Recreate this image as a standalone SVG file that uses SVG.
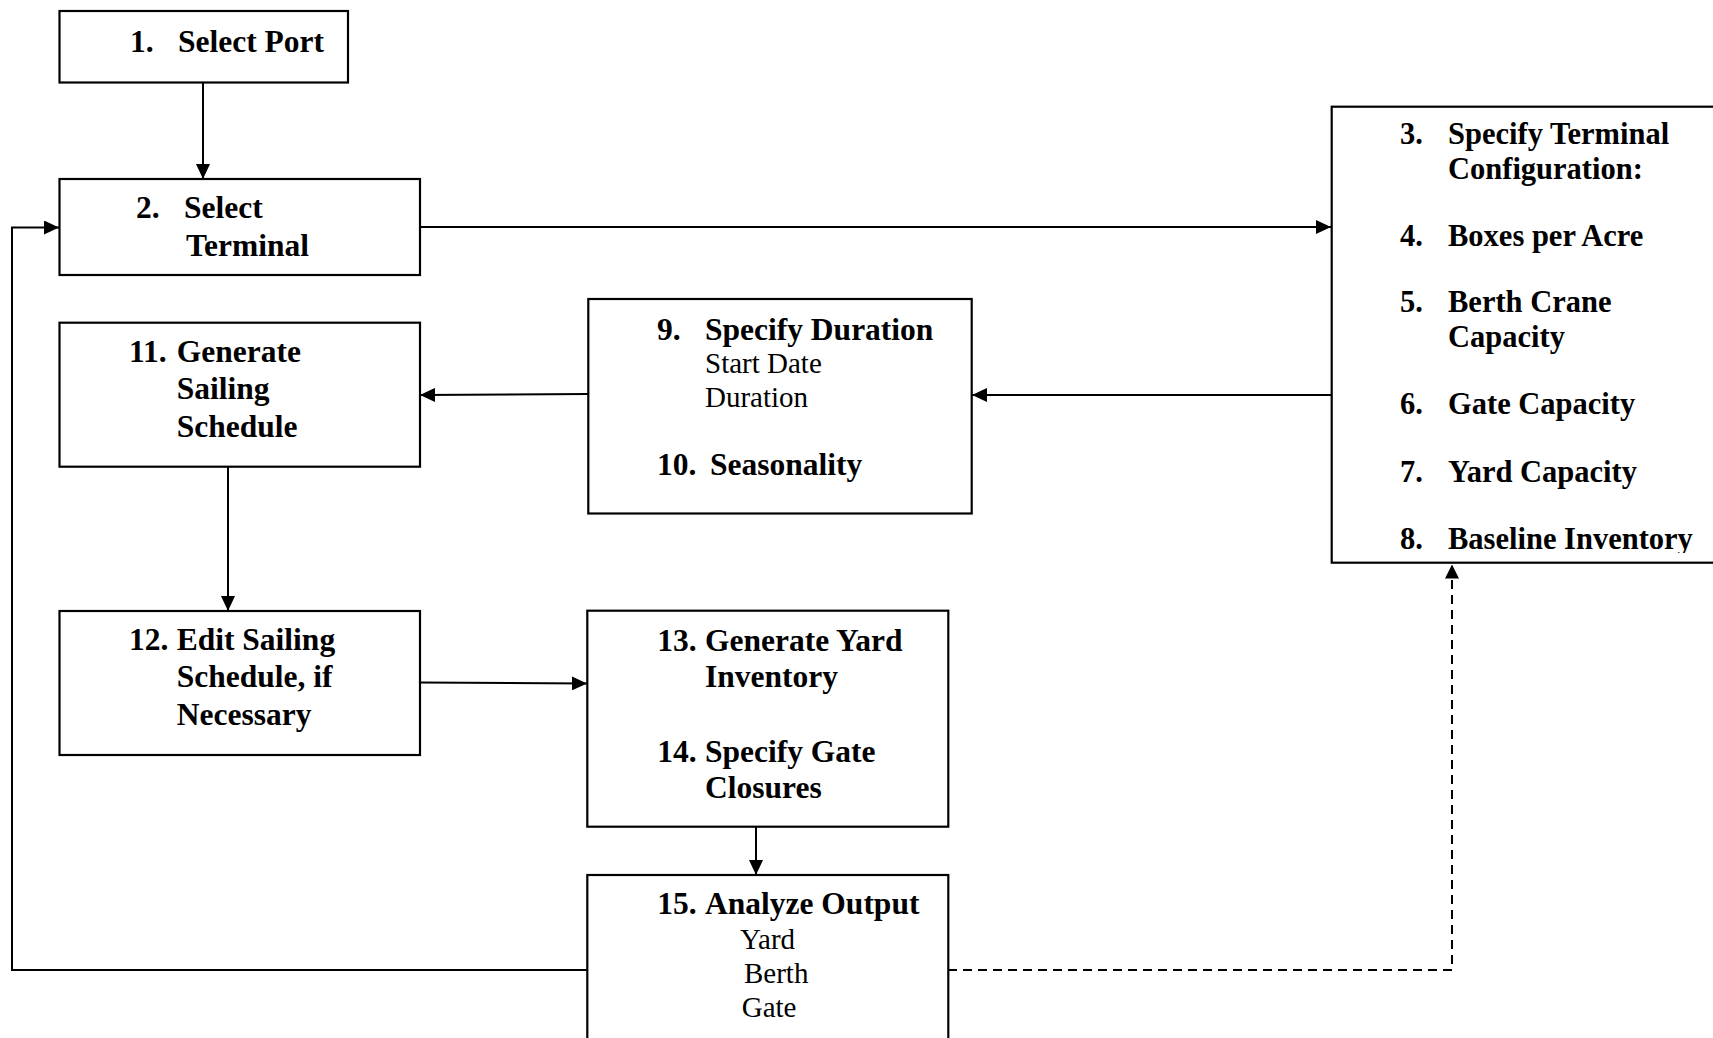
<svg xmlns="http://www.w3.org/2000/svg" width="1713" height="1038" viewBox="0 0 1713 1038">
<style>
.box{fill:#fff;stroke:#000;stroke-width:2.2}
.b{font-family:"Liberation Serif","Times New Roman",serif;font-weight:bold;font-size:31.5px;fill:#000}
.b3{font-family:"Liberation Serif","Times New Roman",serif;font-weight:bold;font-size:30.5px;fill:#000}
.r{font-family:"Liberation Serif","Times New Roman",serif;font-weight:normal;font-size:29px;fill:#000}
.c{fill:none;stroke:#000;stroke-width:2}
.d{fill:none;stroke:#000;stroke-width:2;stroke-dasharray:9 6}
</style>
<defs>
<marker id="ah" markerUnits="userSpaceOnUse" markerWidth="16" markerHeight="14" refX="15" refY="7" orient="auto">
<path d="M0,0 L15,7 L0,14 z" fill="#000"/>
</marker>
<clipPath id="clip3"><rect x="1330" y="100" width="390" height="453"/></clipPath>
</defs>
<rect width="1713" height="1038" fill="#fff"/>
<g id="connectors">
<path class="c" d="M203,83 V179" marker-end="url(#ah)"/>
<path class="c" d="M420,227 H1331" marker-end="url(#ah)"/>
<path class="c" d="M1331,395 H972" marker-end="url(#ah)"/>
<path class="c" d="M588,394 L420,395" marker-end="url(#ah)"/>
<path class="c" d="M228,467 V611" marker-end="url(#ah)"/>
<path class="c" d="M420,682.5 L587,683.5" marker-end="url(#ah)"/>
<path class="c" d="M756,827 V875" marker-end="url(#ah)"/>
<path class="c" d="M587,970 H12 V227.5 H59" marker-end="url(#ah)"/>
<path class="d" d="M948,970 H1452 V566"/>
<path d="M1452,564.5 L1445,578.5 L1459,578.5 z" fill="#000"/>
</g>
<g id="node1">
<rect class="box" x="59.5" y="11" width="288.5" height="71.5"/>
<text class="b" y="51.7"><tspan x="130">1.</tspan><tspan x="178">Select Port</tspan></text>
</g>
<g id="node2">
<rect class="box" x="59.5" y="179" width="360.5" height="96"/>
<text class="b" y="218.3"><tspan x="136">2.</tspan><tspan x="184">Select</tspan></text>
<text class="b" x="186" y="256">Terminal</text>
</g>
<g id="node3">
<rect class="box" x="1331.7" y="106.7" width="400" height="456"/>
<g clip-path="url(#clip3)">
<text class="b3" y="144"><tspan x="1400">3.</tspan><tspan x="1448">Specify Terminal</tspan></text>
<text class="b3" x="1448" y="179.3">Configuration:</text>
<text class="b3" y="246"><tspan x="1400">4.</tspan><tspan x="1448">Boxes per Acre</tspan></text>
<text class="b3" y="311.7"><tspan x="1400">5.</tspan><tspan x="1448">Berth Crane</tspan></text>
<text class="b3" x="1448" y="346.7">Capacity</text>
<text class="b3" y="414"><tspan x="1400">6.</tspan><tspan x="1448">Gate Capacity</tspan></text>
<text class="b3" y="481.7"><tspan x="1400">7.</tspan><tspan x="1448">Yard Capacity</tspan></text>
<text class="b3" y="549.3"><tspan x="1400">8.</tspan><tspan x="1448">Baseline Inventory</tspan></text>
</g>
</g>
<g id="node9">
<rect class="box" x="588.3" y="299" width="383.4" height="214.5"/>
<text class="b" y="340"><tspan x="657">9.</tspan><tspan x="705">Specify Duration</tspan></text>
<text class="r" x="705" y="373.3">Start Date</text>
<text class="r" x="705" y="406.7">Duration</text>
<text class="b" y="475"><tspan x="657">10.</tspan><tspan x="710">Seasonality</tspan></text>
</g>
<g id="node11">
<rect class="box" x="59.5" y="322.7" width="360.5" height="144"/>
<text class="b" y="361.7"><tspan x="129">11.</tspan><tspan x="176.7">Generate</tspan></text>
<text class="b" x="176.7" y="399">Sailing</text>
<text class="b" x="176.7" y="436.7">Schedule</text>
</g>
<g id="node12">
<rect class="box" x="59.5" y="611" width="360.5" height="144"/>
<text class="b" y="650"><tspan x="129">12.</tspan><tspan x="176.7">Edit Sailing</tspan></text>
<text class="b" x="176.7" y="687">Schedule, if</text>
<text class="b" x="176.7" y="725">Necessary</text>
</g>
<g id="node13">
<rect class="box" x="587.3" y="610.7" width="361" height="216"/>
<text class="b" y="650.7"><tspan x="657.3">13.</tspan><tspan x="705">Generate Yard</tspan></text>
<text class="b" x="705" y="686.7">Inventory</text>
<text class="b" y="761.7"><tspan x="657.3">14.</tspan><tspan x="705">Specify Gate</tspan></text>
<text class="b" x="705" y="798.3">Closures</text>
</g>
<g id="node15">
<rect class="box" x="587.3" y="875" width="361" height="200"/>
<text class="b" y="914"><tspan x="657.3">15.</tspan><tspan x="705">Analyze Output</tspan></text>
<text class="r" x="740" y="949.3">Yard</text>
<text class="r" x="744" y="983.3">Berth</text>
<text class="r" x="741.7" y="1016.7">Gate</text>
</g>
</svg>
